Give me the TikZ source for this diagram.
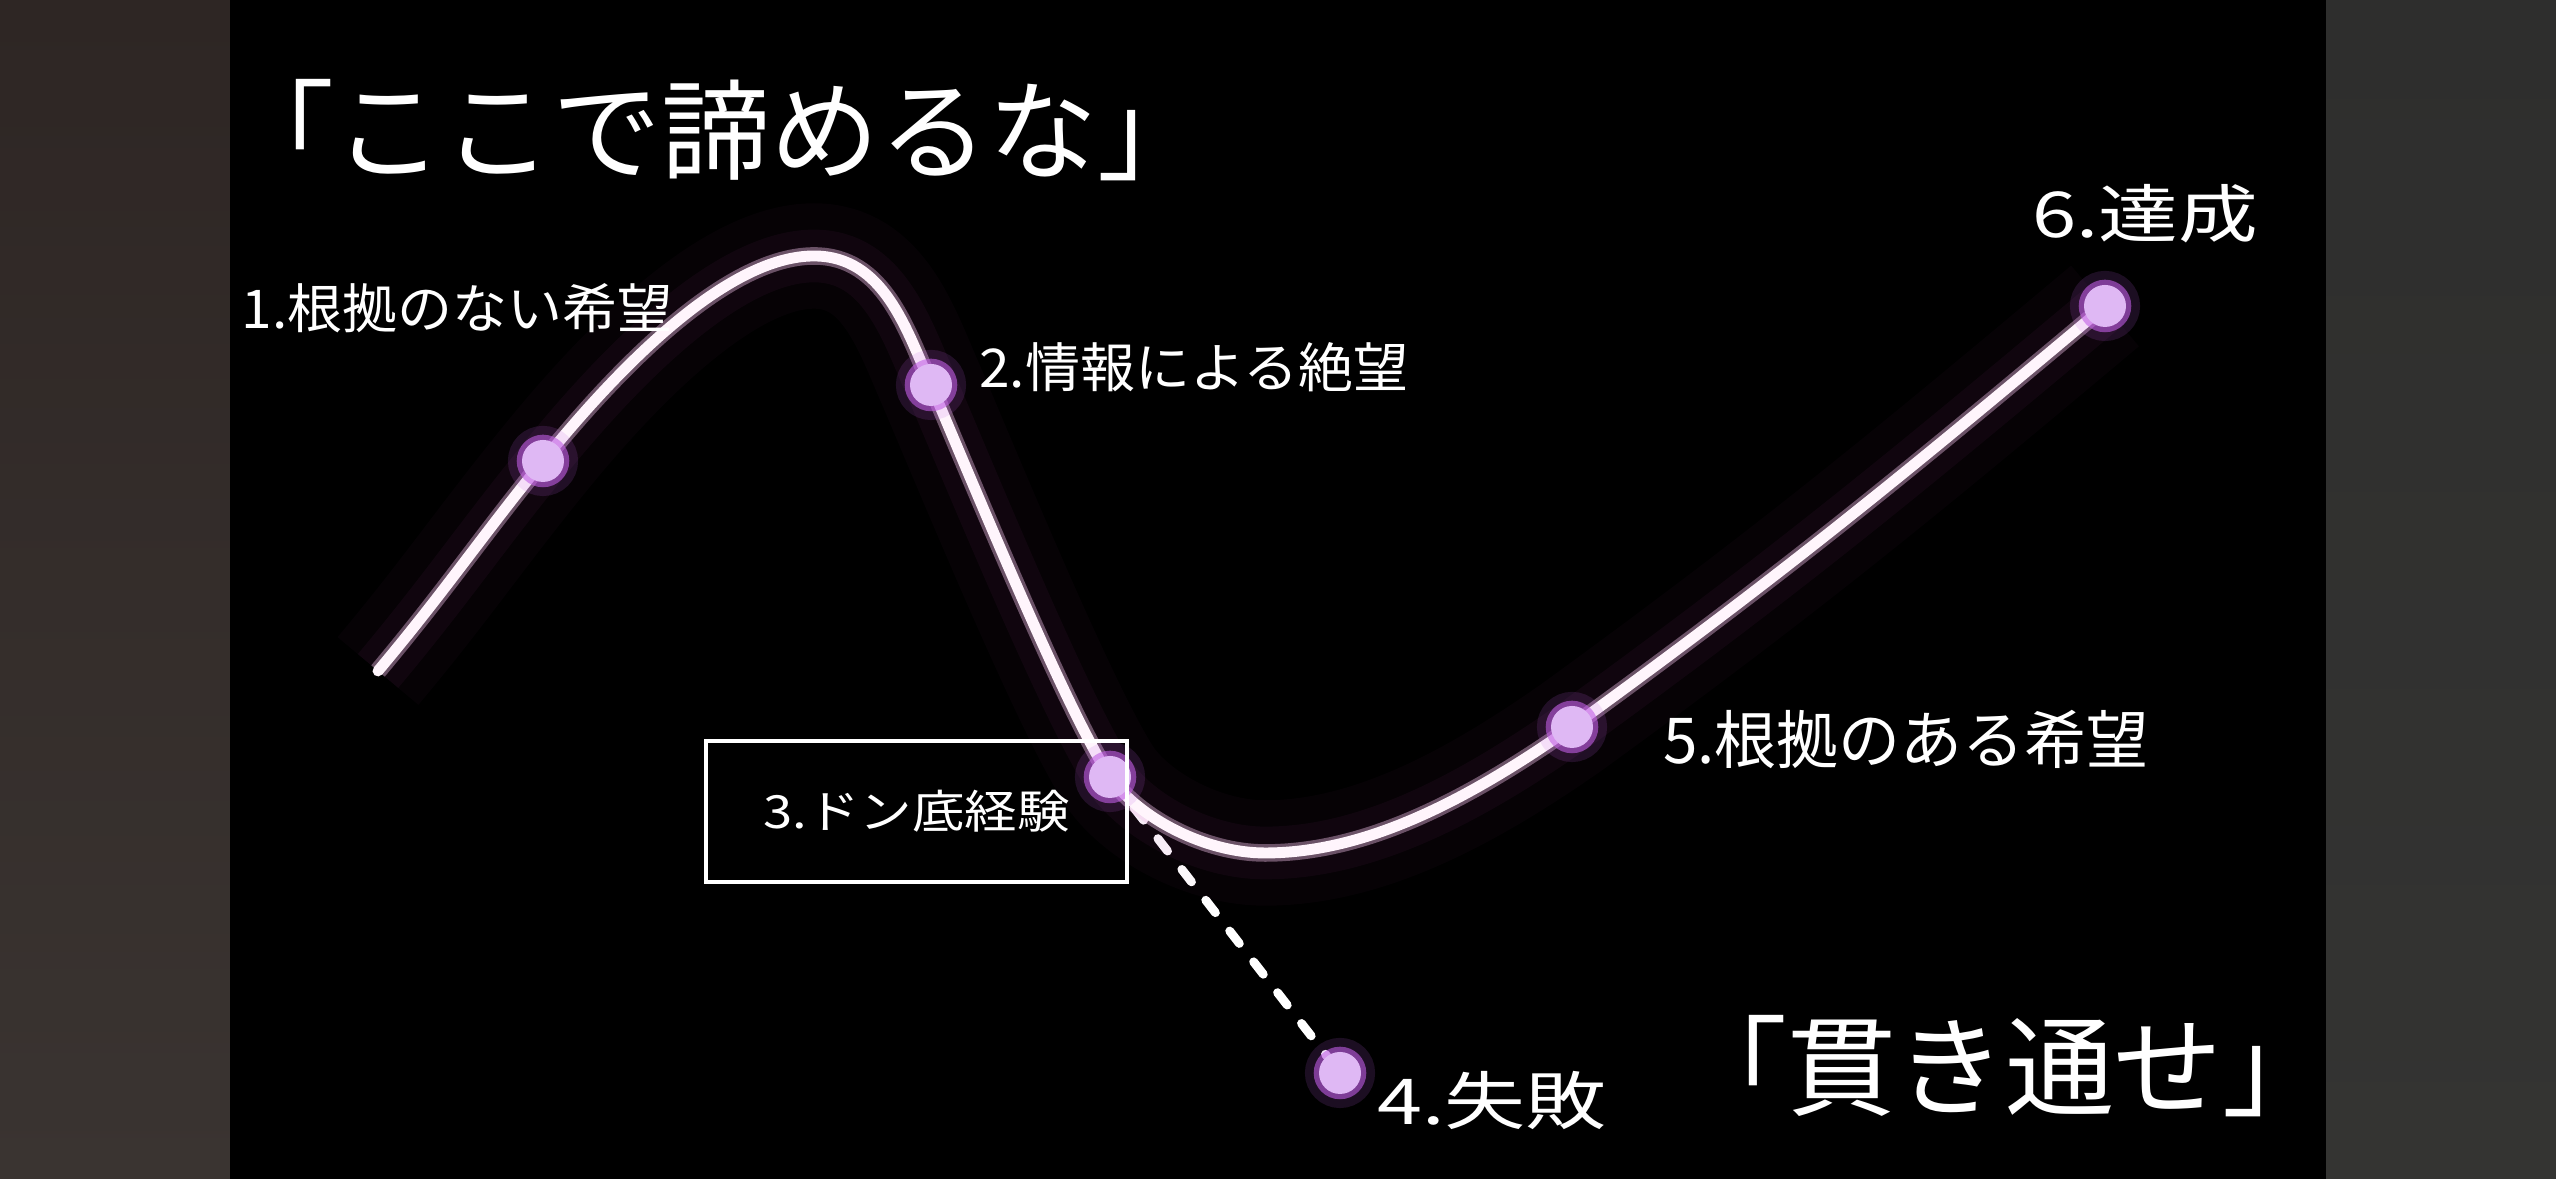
\documentclass[tikz,border=0pt]{standalone}
\usepackage{fontspec}
\usepackage{graphicx}
\newfontfamily\jp{Noto Sans CJK JP}
\usetikzlibrary{positioning}
\definecolor{panelTop}{HTML}{2E2624}
\definecolor{panelBot}{HTML}{3A3431}
\definecolor{sideTop}{HTML}{2E2E2D}
\definecolor{sideBot}{HTML}{343432}
\definecolor{core}{HTML}{FFF5FC}
\definecolor{rim}{HTML}{F2C4EA}
\definecolor{glow}{HTML}{B040A8}
\definecolor{dotcol}{HTML}{DFB8F4}
\definecolor{dotglow}{HTML}{C15EE6}
\newcommand{\stretchjp}[2][1.15]{\scalebox{#1}[1]{#2}}

\begin{document}
\begin{tikzpicture}[
  curve/.style={draw=core,line width=3.1pt,line cap=round,
    preaction={draw=glow,line width=30pt,opacity=.035},
    preaction={draw=glow,line width=15pt,opacity=.06},
    preaction={draw=rim,line width=5pt,opacity=.4}},
  dashline/.style={draw=white,line width=2.5pt,line cap=round,dash pattern=on 4.5pt off 6.6pt},
  dot/.style={circle,fill=dotcol,inner sep=0pt,minimum size=0.42cm,
    preaction={draw=dotglow,line width=3pt,opacity=.6},
    preaction={draw=dotglow,line width=8pt,opacity=.15}},
  lbl/.style={text=white,inner sep=0pt,font=\jp\fontsize{15.2pt}{18pt}\selectfont},
  lblbig/.style={text=white,inner sep=0pt,font=\jp\fontsize{18pt}{22pt}\selectfont},
  boxlbl/.style={draw=white,line width=1.2pt,text=white,inner sep=0pt,
    minimum width=4.21cm,minimum height=1.41cm,font=\jp\fontsize{13pt}{16pt}\selectfont},
  title/.style={text=white,inner sep=0pt,font=\jp\fontsize{31pt}{37pt}\selectfont}]
\useasboundingbox (0,0) rectangle (25.56,11.79);
\shade[top color=panelTop,bottom color=panelBot] (0,0) rectangle (2.30,11.79);
\shade[top color=sideTop,bottom color=sideBot] (23.26,0) rectangle (25.56,11.79);
\fill[black] (2.30,0) rectangle (23.26,11.79);

\coordinate (p0) at (3.78,5.08);
\coordinate (p1) at (5.43,7.18);
\coordinate (pk) at (8.14,9.23);
\coordinate (p2) at (9.31,7.94);
\coordinate (p3) at (11.10,4.02);
\coordinate (lo) at (12.65,3.26);
\coordinate (p4) at (13.40,1.06);
\coordinate (p5) at (15.72,4.52);
\coordinate (p6) at (21.05,8.73);

\draw[dashline] (p3) -- (p4);
\path[curve] (p0) to[out=50,in=231] (p1)
  to[out=51,in=180,out distance=1.3cm,in distance=0.84cm] (pk)
  to[out=0,in=114,out distance=0.7cm,in distance=0.6cm] (p2)
  to[out=-67,in=123,out distance=1.2cm,in distance=0.8cm] (p3)
  to[out=-55,in=180,out distance=0.5cm,in distance=0.6cm] (lo)
  to[out=0,in=215,out distance=1cm,in distance=1.3cm] (p5)
  to[out=36,in=220] (p6);
\foreach \p in {p1,p2,p3,p4,p5,p6}
  \node[dot] (d\p) at (\p) {};

\node[title] (t1) at (7.16,10.49) {「ここで諦めるな」};
\node[title] (t2) at (20.05,1.13) {「貫き通せ」};
\node[lbl] (l1) at (4.57,8.71) {\stretchjp[1.03]{1.根拠のない希望}};
\node[lbl] (l2) at (11.94,8.12) {\stretchjp[1.03]{2.情報による絶望}};
\node[boxlbl] (l3) at (9.165,3.675) {\stretchjp{3.ドン底経験}};
\node[lblbig] (l4) at (14.92,0.78) {\stretchjp[1.28]{4.失敗}};
\node[lblbig] (l5) at (19.06,4.39) {\stretchjp[0.98]{5.根拠のある希望}};
\node[lblbig] (l6) at (21.45,9.65) {\stretchjp[1.26]{6.達成}};
\end{tikzpicture}
\end{document}
